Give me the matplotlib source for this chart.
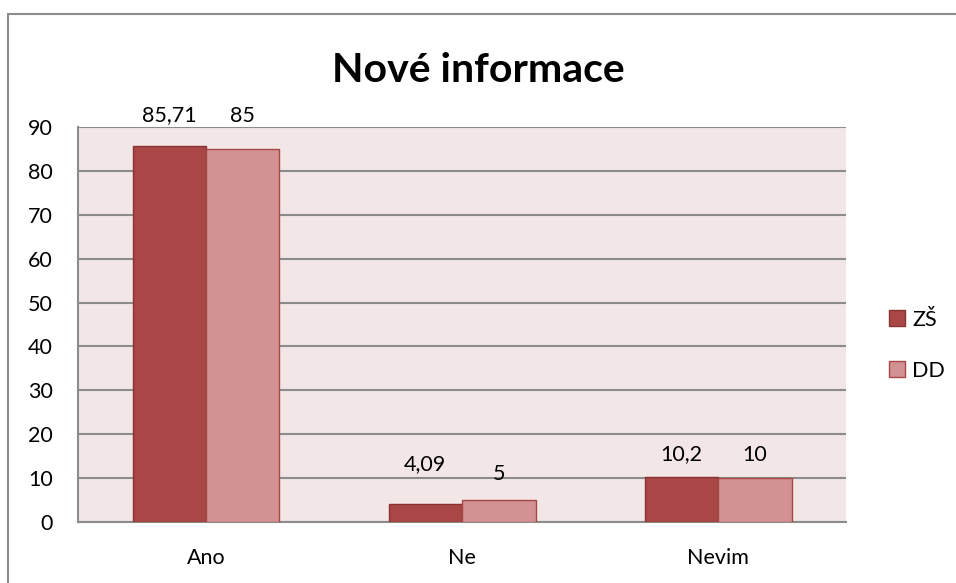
import numpy as np
import matplotlib.pyplot as plt
from matplotlib.patches import Rectangle

categories = ["Ano", "Ne", "Nevim"]
zs_values = [85.71, 4.09, 10.2]
dd_values = [85, 5, 10]
zs_labels = ["85,71", "4,09", "10,2"]
dd_labels = ["85", "5", "10"]
yticks = [0, 10, 20, 30, 40, 50, 60, 70, 80, 90]

plt.rcParams['font.family'] = ['Lato', 'DejaVu Sans']

fig = plt.figure(figsize=(9.56, 5.83), dpi=100)
ax = fig.add_axes([0.0816, 0.1046, 0.8034, 0.6776])

# chart border (only top and left visible in the reference)
fig.patches.append(Rectangle((8 / 956, -0.1), 1.2, 1 - 14 / 583 + 0.1,
                             transform=fig.transFigure, fill=False,
                             edgecolor="#8c8c8c", lw=1.5))

x = np.arange(len(categories))
w = 0.287
c_zs = "#A94646"
c_dd = "#D39292"
fs = 15.5

b1 = ax.bar(x - w / 2, zs_values, w, color=c_zs, edgecolor="#8B3333", lw=1.0, label="ZŠ", zorder=3)
b2 = ax.bar(x + w / 2, dd_values, w, color=c_dd, edgecolor="#A94646", lw=1.0, label="DD", zorder=3)

# value labels (offsets in points, Excel placed them a bit unevenly)
zs_off = [22, 29, 17]
dd_off = [24, 19, 17]
for rect, lab, off in zip(b1, zs_labels, zs_off):
    ax.annotate(lab, (rect.get_x() + rect.get_width() / 2, rect.get_height()),
                xytext=(0, off), textcoords="offset points", ha="center", va="center", fontsize=fs)
for rect, lab, off in zip(b2, dd_labels, dd_off):
    ax.annotate(lab, (rect.get_x() + rect.get_width() / 2, rect.get_height()),
                xytext=(0, off), textcoords="offset points", ha="center", va="center", fontsize=fs)

ax.set_facecolor("#F2E6E6")
ax.set_xlim(-0.5, 2.5)
ax.set_ylim(0, 90)
ax.set_yticks(yticks)
ax.set_xticks(x)
ax.set_xticklabels(categories)
ax.tick_params(axis="both", length=0, labelsize=fs)
ax.tick_params(axis="y", pad=18)
ax.tick_params(axis="x", pad=19)
ax.yaxis.grid(True, color="#8c8c8c", lw=1.5, zorder=0)
ax.set_axisbelow(True)
for s in ["top", "right"]:
    ax.spines[s].set_visible(False)
for s in ["left", "bottom"]:
    ax.spines[s].set_color("#8c8c8c")
    ax.spines[s].set_linewidth(1.5)

fig.text(0.5, 1 - 70 / 583, "Nové informace", ha="center", va="center",
         fontsize=29.5, fontweight="bold")

fig.legend(loc="center left", bbox_to_anchor=(0.919, 0.408), frameon=False,
           fontsize=fs, handlelength=0.75, handleheight=0.75, handletextpad=0.3,
           labelspacing=1.45, borderpad=0)

plt.savefig("out.png", dpi=100)
